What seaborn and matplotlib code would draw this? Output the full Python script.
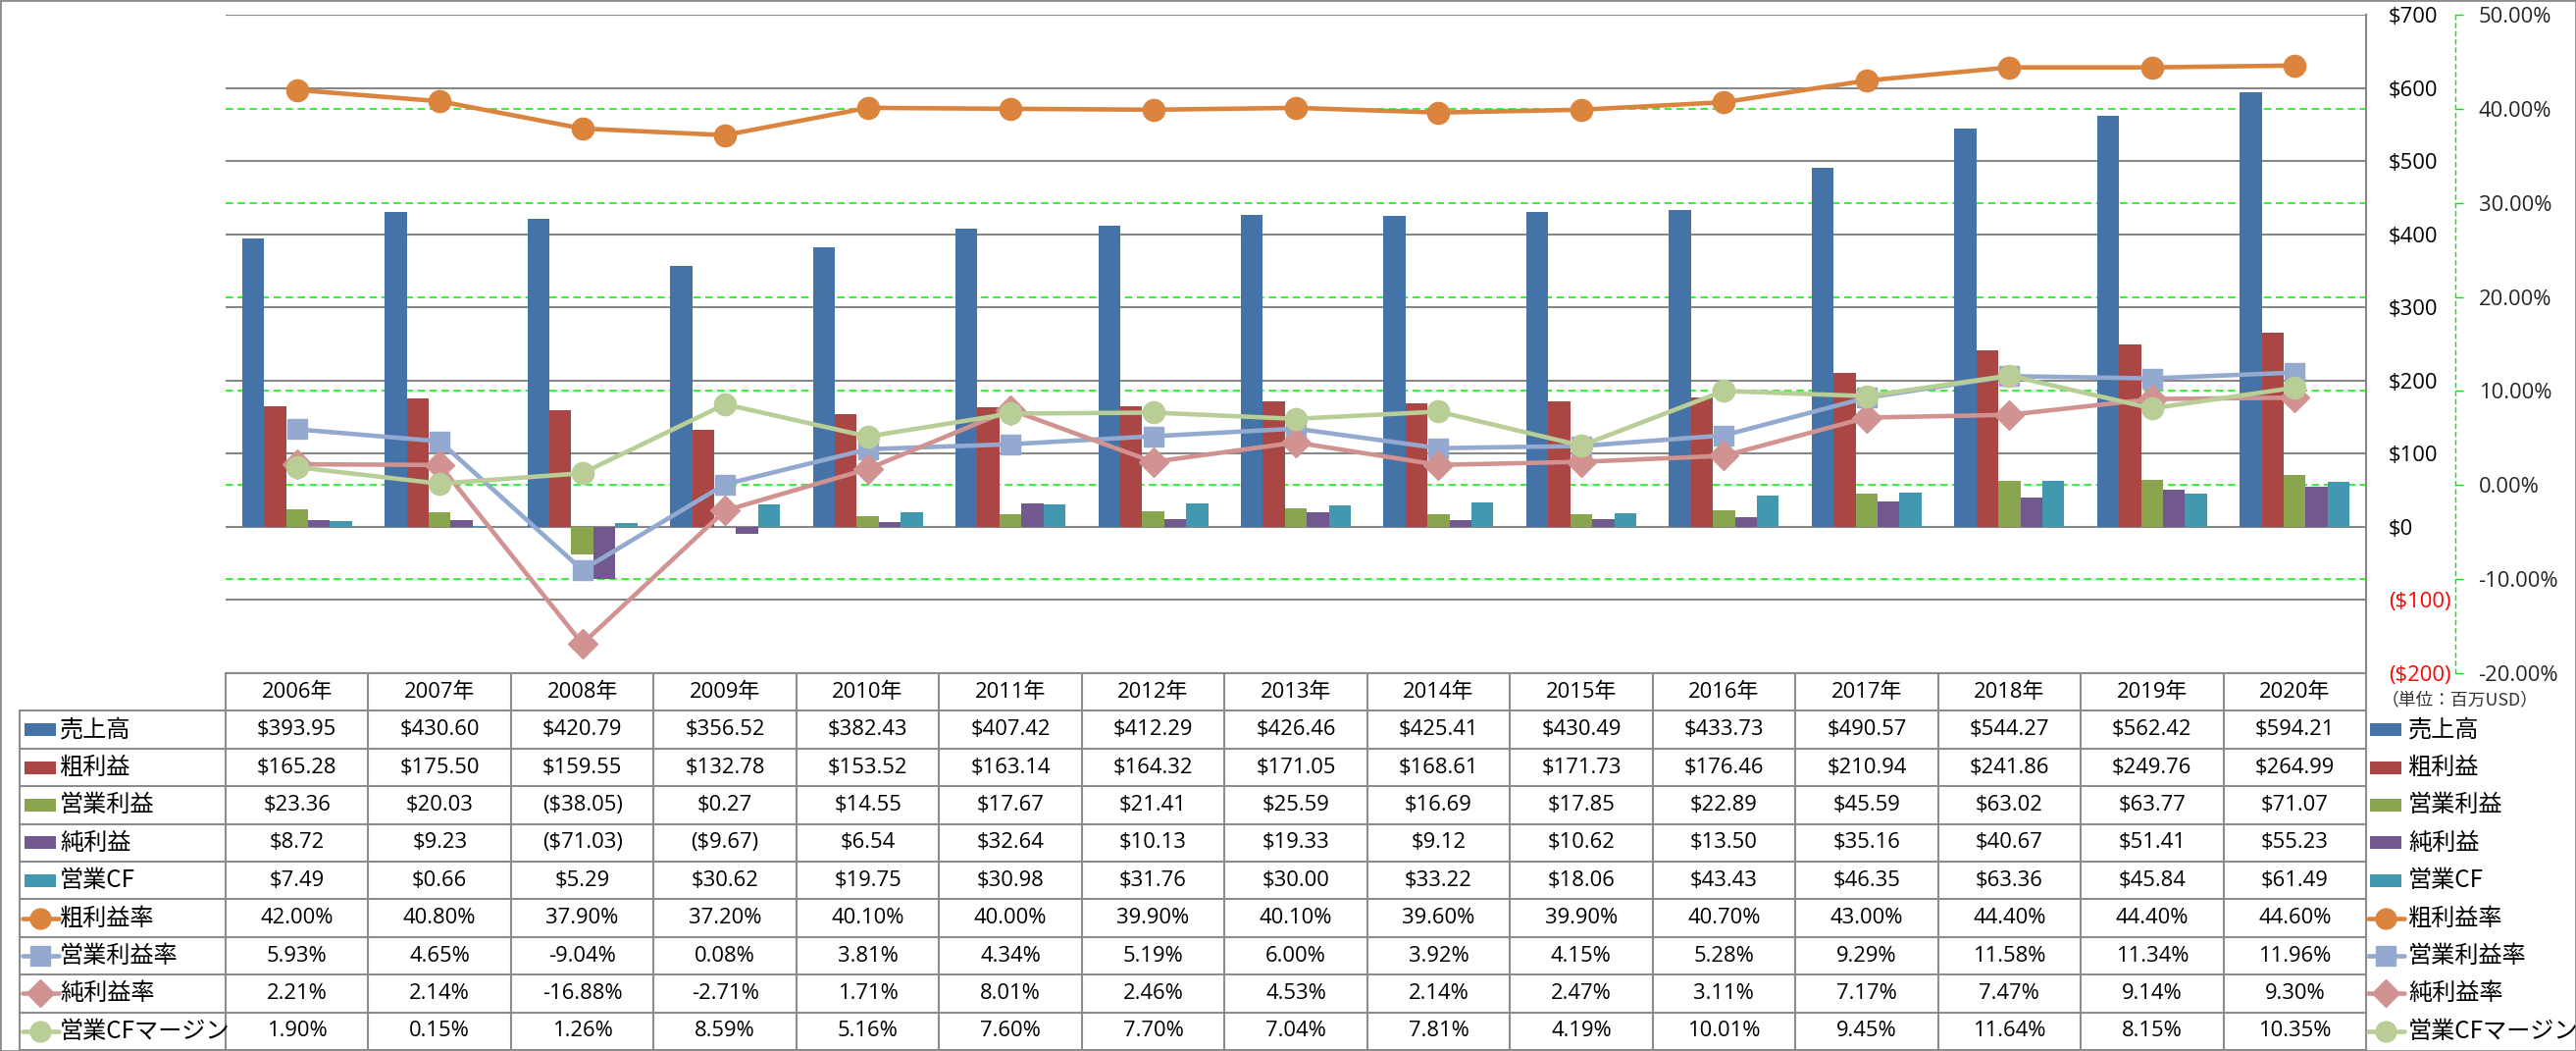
import numpy as np
import pandas as pd
import matplotlib
matplotlib.use('Agg')
import matplotlib.pyplot as plt
import seaborn as sns
from matplotlib.lines import Line2D
from matplotlib.patches import Rectangle

sns.set_theme(style='white')
plt.rcParams['font.family'] = ['Open Sans', 'Noto Sans CJK JP', 'DejaVu Sans']

# ---------------- data ----------------
years = list(range(2006, 2021))
year_labels = [f'{y}年' for y in years]

bar_names = ['売上高', '粗利益', '営業利益', '純利益', '営業CF']
sales = [393.95, 430.60, 420.79, 356.52, 382.43, 407.42, 412.29, 426.46, 425.41, 430.49, 433.73, 490.57, 544.27, 562.42, 594.21]
gross = [165.28, 175.50, 159.55, 132.78, 153.52, 163.14, 164.32, 171.05, 168.61, 171.73, 176.46, 210.94, 241.86, 249.76, 264.99]
op_income = [23.36, 20.03, -38.05, 0.27, 14.55, 17.67, 21.41, 25.59, 16.69, 17.85, 22.89, 45.59, 63.02, 63.77, 71.07]
net_income = [8.72, 9.23, -71.03, -9.67, 6.54, 32.64, 10.13, 19.33, 9.12, 10.62, 13.50, 35.16, 40.67, 51.41, 55.23]
op_cf = [7.49, 0.66, 5.29, 30.62, 19.75, 30.98, 31.76, 30.00, 33.22, 18.06, 43.43, 46.35, 63.36, 45.84, 61.49]

line_names = ['粗利益率', '営業利益率', '純利益率', '営業CFマージン']
gross_margin = [42.00, 40.80, 37.90, 37.20, 40.10, 40.00, 39.90, 40.10, 39.60, 39.90, 40.70, 43.00, 44.40, 44.40, 44.60]
op_margin = [5.93, 4.65, -9.04, 0.08, 3.81, 4.34, 5.19, 6.00, 3.92, 4.15, 5.28, 9.29, 11.58, 11.34, 11.96]
net_margin = [2.21, 2.14, -16.88, -2.71, 1.71, 8.01, 2.46, 4.53, 2.14, 2.47, 3.11, 7.17, 7.47, 9.14, 9.30]
cf_margin = [1.90, 0.15, 1.26, 8.59, 5.16, 7.60, 7.70, 7.04, 7.81, 4.19, 10.01, 9.45, 11.64, 8.15, 10.35]

primary_ticks = list(range(-200, 701, 100))
secondary_ticks = list(range(-20, 51, 10))
unit_label = '（単位：百万USD）'

bar_series = [sales, gross, op_income, net_income, op_cf]
line_series = [gross_margin, op_margin, net_margin, cf_margin]
bar_colors = ['#4572A7', '#AA4643', '#89A54E', '#71588F', '#4198AF']
line_colors = ['#DB843D', '#93A9CF', '#D19392', '#B9CD96']
line_markers = ['o', 's', 'D', 'o']
line_msizes = [16, 15, 15, 16]

# ---------------- layout ----------------
W, H = 2626, 1071
fig = plt.figure(figsize=(W / 100, H / 100), dpi=100)
fig.patch.set_facecolor('white')

def fx(px):
    return px / W

def fy(py):
    return 1 - py / H

PL, PR, PT, PB = 230, 2412, 15, 686
rect = [fx(PL), fy(PB), (PR - PL) / W, (PB - PT) / H]
GRID_GRAY = '#878787'
GREEN = '#00EE00'
FS = 15.8
CJK = ['Noto Sans CJK JP', 'DejaVu Sans']

# green secondary gridlines (drawn below bars)
ax_g = fig.add_axes(rect)
ax_g.set_xlim(-0.5, len(years) - 0.5)
ax_g.set_ylim(-20, 50)
ax_g.set_yticks(secondary_ticks)
ax_g.set_xticks([])
ax_g.grid(axis='y', color=GREEN, linestyle=(0, (5, 3)), linewidth=1.1)
ax_g.tick_params(left=False, labelleft=False, bottom=False)
for s in ax_g.spines.values():
    s.set_visible(False)

# bars on primary axis
ax = fig.add_axes(rect)
ax.patch.set_alpha(0)
df_bars = pd.DataFrame({
    'year': np.tile(year_labels, len(bar_names)),
    'series': np.repeat(bar_names, len(years)),
    'value': np.concatenate([np.array(v) for v in bar_series]),
})
sns.barplot(data=df_bars, x='year', y='value', hue='series', order=year_labels,
            hue_order=bar_names, palette=bar_colors, width=0.77, gap=0,
            saturation=1, errorbar=None, legend=False, ax=ax, linewidth=0)
ax.set_xlabel('')
ax.set_ylabel('')
ax.set_xlim(-0.5, len(years) - 0.5)
ax.set_ylim(-200, 700)
ax.set_xticks([])
ax.grid(axis='y', color=GRID_GRAY, linewidth=1.5)
ax.set_axisbelow(True)
for k in ['left', 'top', 'bottom']:
    ax.spines[k].set_visible(False)
ax.spines['right'].set_color(GRID_GRAY)
ax.spines['right'].set_linewidth(1.5)

# lines on secondary axis
ax2 = ax.twinx()
idx = np.arange(len(years))
for vals, col, mk, ms in zip(line_series, line_colors, line_markers, line_msizes):
    sns.lineplot(x=idx, y=vals, ax=ax2, color=col, marker=mk, markersize=ms,
                 linewidth=3.3, markeredgecolor=col, markeredgewidth=1, legend=False)
ax2.set_xlabel('')
ax2.set_ylabel('')
ax2.set_xlim(-0.5, len(years) - 0.5)
ax2.set_ylim(-20, 50)
ax2.set_yticks(secondary_ticks, labels=[f'{t:.2f}%' for t in secondary_ticks])
for t, lab in zip(secondary_ticks, ax2.get_yticklabels()):
    lab.set_color('#FF0000' if t < 0 else 'black')
ax2.grid(False)
for k in ['left', 'top', 'bottom']:
    ax2.spines[k].set_visible(False)
ax2.spines['right'].set_position(('outward', 65.5))
ax2.spines['right'].set_color(GREEN)
ax2.spines['right'].set_linestyle((0, (3, 3)))
ax2.spines['right'].set_linewidth(1)
ax2.tick_params(axis='y', direction='out', length=5.5, width=1, color=GREEN, pad=11.5, labelsize=FS)

# primary axis labels on the right (after twinx, which moves them left)
ax.yaxis.tick_right()
ax.yaxis.set_label_position('right')
ax.set_yticks(primary_ticks, labels=[(f'${t}' if t >= 0 else f'(${-t})') for t in primary_ticks])
ax.tick_params(axis='y', length=0, pad=16.5, labelsize=FS)
for t, lab in zip(primary_ticks, ax.get_yticklabels()):
    lab.set_color('#FF0000' if t < 0 else 'black')

# ---------------- data table ----------------
TBL_TOP, TBL_BOT = 686, 1070
n_rows = 1 + len(bar_names) + len(line_names)
rh = (TBL_BOT - TBL_TOP) / n_rows
cw = (PR - PL) / len(years)
LINE_C = '#8C8C8C'

def hline(x0, x1, y):
    fig.add_artist(Line2D([fx(x0), fx(x1)], [fy(y), fy(y)], transform=fig.transFigure,
                          color=LINE_C, linewidth=1.5))

def vline(x, y0, y1):
    fig.add_artist(Line2D([fx(x), fx(x)], [fy(y0), fy(y1)], transform=fig.transFigure,
                          color=LINE_C, linewidth=1.5))

hline(PL, PR, TBL_TOP)
for k in range(1, n_rows + 1):
    hline(20, PR, TBL_TOP + k * rh)
vline(20, TBL_TOP + rh, TBL_BOT)
for j in range(len(years) + 1):
    vline(PL + j * cw, TBL_TOP, TBL_BOT)

def row_center(i):
    return TBL_TOP + rh * (i + 0.5)

for j, lab in enumerate(year_labels):
    fig.text(fx(PL + cw * (j + 0.5)), fy(row_center(0)), lab, ha='center', va='center',
             fontsize=FS, color='black')

def fmt_dollar(v):
    return f'${v:.2f}' if v >= 0 else f'(${-v:.2f})'

rows = [(n, s, fmt_dollar) for n, s in zip(bar_names, bar_series)] + \
       [(n, s, lambda v: f'{v:.2f}%') for n, s in zip(line_names, line_series)]

all_colors = bar_colors + line_colors
for i, (name, vals, f) in enumerate(rows):
    yc = row_center(i + 1)
    for j, v in enumerate(vals):
        fig.text(fx(PL + cw * (j + 0.5)), fy(yc), f(v), ha='center', va='center',
                 fontsize=FS, color='black')
    col = all_colors[i]
    for kx, tx in [(25, 61), (2416, 2455)]:
        if i < len(bar_names):
            fig.add_artist(Rectangle((fx(kx), fy(yc + 6.5)), 32 / W, 13 / H,
                                     transform=fig.transFigure, facecolor=col, edgecolor='none'))
        else:
            li = i - len(bar_names)
            fig.add_artist(Line2D([fx(kx - 2), fx(kx + 35)], [fy(yc), fy(yc)],
                                  transform=fig.transFigure, color=col, linewidth=3.3))
            fig.add_artist(Line2D([fx(kx + 16)], [fy(yc)], transform=fig.transFigure,
                                  color=col, marker=line_markers[li], markersize=line_msizes[li] - 1,
                                  markeredgecolor=col, linestyle='none'))
        fig.text(fx(tx), fy(yc), name, ha='left', va='center', fontsize=17.4,
                 family=CJK, color='black')

fig.text(fx(2428), fy(713), unit_label, ha='left', va='center', fontsize=12.8,
         family=CJK, color='#333333')

# outer border
fig.add_artist(Rectangle((0, 0), 1, 1, transform=fig.transFigure, fill=False,
                         edgecolor=LINE_C, linewidth=2))

fig.savefig('out.png', dpi=100)
